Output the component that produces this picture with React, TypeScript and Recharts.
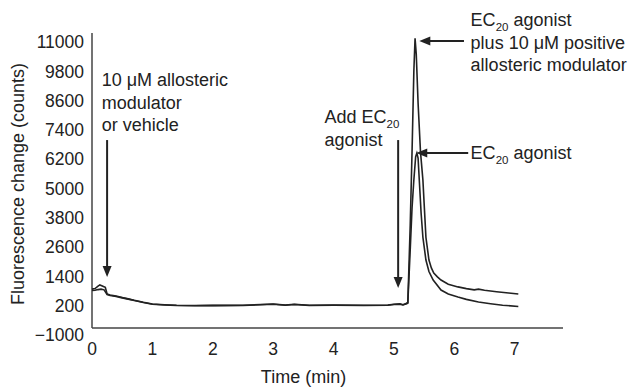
import React from 'react';
import { LineChart, Line, XAxis, YAxis, ReferenceLine, ReferenceDot } from 'recharts';

// Time (min)
const pamTimes = [0, 0.05, 0.1, 0.13, 0.18, 0.22, 0.25, 0.3, 0.4, 0.5, 0.6, 0.7, 0.85, 1.0, 1.2, 1.4, 1.7, 2.0, 2.5, 2.9, 3.0, 3.2, 3.35, 3.6, 4.0, 4.5, 4.9, 5.0, 5.1, 5.15, 5.2, 5.23, 5.27, 5.3, 5.33, 5.35, 5.37, 5.4, 5.44, 5.48, 5.5, 5.53, 5.58, 5.62, 5.66, 5.72, 5.78, 5.9, 6.06, 6.2, 6.33, 6.4, 6.5, 6.7, 6.9, 7.06];
// EC20 agonist plus 10 uM positive allosteric modulator
const pamValues = [880, 900, 1000, 1050, 1000, 950, 680, 640, 600, 540, 480, 420, 340, 270, 240, 220, 210, 215, 220, 260, 270, 230, 260, 220, 230, 220, 230, 260, 280, 240, 290, 330, 3500, 6500, 9800, 11150, 10500, 8500, 6500, 5350, 4400, 3000, 2070, 1750, 1540, 1380, 1250, 1080, 970, 900, 850, 880, 830, 770, 720, 680];

const agoTimes = [0, 0.05, 0.1, 0.15, 0.2, 0.25, 0.3, 0.4, 0.5, 0.6, 0.7, 0.85, 1.0, 1.2, 1.4, 1.7, 2.0, 2.5, 2.9, 3.0, 3.2, 3.35, 3.6, 4.0, 4.5, 4.9, 5.0, 5.1, 5.15, 5.2, 5.23, 5.27, 5.3, 5.33, 5.36, 5.38, 5.4, 5.42, 5.45, 5.48, 5.53, 5.58, 5.65, 5.78, 5.9, 6.06, 6.2, 6.4, 6.6, 6.8, 7.06];
// EC20 agonist alone
const agoValues = [820, 830, 860, 880, 850, 660, 620, 580, 520, 470, 410, 330, 260, 230, 210, 200, 205, 210, 250, 260, 220, 250, 210, 220, 210, 220, 250, 260, 230, 270, 300, 2500, 4200, 5350, 6300, 6450, 6250, 5350, 4000, 3000, 2070, 1600, 1250, 840, 680, 556, 460, 351, 280, 220, 170];

const xTicks = [0, 1, 2, 3, 4, 5, 6, 7];
const yTicks = [-1000, 200, 1400, 2600, 3800, 5000, 6200, 7400, 8600, 9800, 11000];

const pamData = pamTimes.map((t, i) => ({ t, v: pamValues[i] }));
const agoData = agoTimes.map((t, i) => ({ t, v: agoValues[i] }));

const INK = '#222';
const TICK_FONT = 17.5;
const FONT = 18;

const renderLine = (s: string) => {
  const idx = s.indexOf('EC20');
  if (idx < 0) return <tspan>{s}</tspan>;
  return (
    <>
      <tspan>{s.slice(0, idx) + 'EC'}</tspan>
      <tspan fontSize={11.5} dy={5}>20</tspan>
      <tspan dy={-5}>{s.slice(idx + 4)}</tspan>
    </>
  );
};

const noteShape = (lines: string[]) => (p: any) => (
  <g>
    {lines.map((l, i) => (
      <text key={i} x={p.cx} y={p.cy + i * 22.5} dy="0.35em" fontSize={FONT} fill={INK}>
        {renderLine(l)}
      </text>
    ))}
  </g>
);

const headShape = (dir: 'down' | 'left') => (p: any) => {
  const { cx, cy } = p;
  const pts = dir === 'down'
    ? `${cx},${cy} ${cx - 4.5},${cy - 11} ${cx + 4.5},${cy - 11}`
    : `${cx},${cy} ${cx + 11},${cy - 4.5} ${cx + 11},${cy + 4.5}`;
  return <polygon points={pts} fill={INK} />;
};

export default function App() {
  return (
    <div style={{ position: 'absolute', left: 0, top: 0 }}>
      <LineChart
        width={632}
        height={387}
        margin={{ top: 33, right: 69, bottom: 0, left: 0 }}
        style={{ fontFamily: '"Liberation Sans", Arial, sans-serif' }}
      >
        <XAxis
          dataKey="t"
          type="number"
          domain={[0, 7.8]}
          ticks={xTicks}
          height={52}
          axisLine={false}
          tickLine={false}
          tick={{ fill: INK, fontSize: TICK_FONT }}
          allowDuplicatedCategory={false}
          label={{ value: 'Time (min)', position: 'insideBottom', offset: 4, dx: -24, fill: INK, fontSize: FONT }}
        />
        <YAxis
          type="number"
          domain={[-1000, 11370]}
          ticks={yTicks}
          width={92}
          axisLine={false}
          tickLine={false}
          interval={0}
          tick={{ fill: INK, fontSize: TICK_FONT }}
          tickFormatter={(v: number) => (v < 0 ? '\u2212' + Math.abs(v) : String(v))}
          label={{ value: 'Fluorescence change (counts)', angle: -90, position: 'insideLeft', offset: 18, fill: INK, fontSize: FONT, style: { textAnchor: 'middle' } }}
        />
        {/* axis lines */}
        <ReferenceLine y={-713} stroke="#444" strokeWidth={1.5} ifOverflow="visible" />
        <ReferenceLine segment={[{ x: 0, y: -713 }, { x: 0, y: 11370 }]} stroke="#444" strokeWidth={1.5} ifOverflow="visible" />

        <Line data={agoData} dataKey="v" type="linear" stroke={INK} strokeWidth={1.6} dot={false} isAnimationActive={false} />
        <Line data={pamData} dataKey="v" type="linear" stroke={INK} strokeWidth={1.6} dot={false} isAnimationActive={false} />

        {/* annotation: modulator or vehicle */}
        <ReferenceDot x={0.16} y={9440} r={0} ifOverflow="visible" shape={noteShape(['10 \u03bcM allosteric', 'modulator', 'or vehicle'])} />
        <ReferenceLine segment={[{ x: 0.25, y: 6985 }, { x: 0.25, y: 1600 }]} stroke={INK} strokeWidth={2} ifOverflow="visible" />
        <ReferenceDot x={0.25} y={1375} r={0} ifOverflow="visible" shape={headShape('down')} />

        {/* annotation: add EC20 agonist */}
        <ReferenceDot x={3.85} y={7927} r={0} ifOverflow="visible" shape={noteShape(['Add EC20', 'agonist'])} />
        <ReferenceLine segment={[{ x: 5.07, y: 6985 }, { x: 5.07, y: 1150 }]} stroke={INK} strokeWidth={2} ifOverflow="visible" />
        <ReferenceDot x={5.07} y={925} r={0} ifOverflow="visible" shape={headShape('down')} />

        {/* annotation: PAM peak */}
        <ReferenceDot x={6.27} y={11899} r={0} ifOverflow="visible" shape={noteShape(['EC20 agonist', 'plus 10 \u03bcM positive', 'allosteric modulator'])} />
        <ReferenceLine segment={[{ x: 6.16, y: 11039 }, { x: 5.5, y: 11039 }]} stroke={INK} strokeWidth={2} ifOverflow="visible" />
        <ReferenceDot x={5.42} y={11039} r={0} ifOverflow="visible" shape={headShape('left')} />

        {/* annotation: agonist peak */}
        <ReferenceDot x={6.27} y={6453} r={0} ifOverflow="visible" shape={noteShape(['EC20 agonist'])} />
        <ReferenceLine segment={[{ x: 6.23, y: 6453 }, { x: 5.45, y: 6453 }]} stroke={INK} strokeWidth={2} ifOverflow="visible" />
        <ReferenceDot x={5.37} y={6453} r={0} ifOverflow="visible" shape={headShape('left')} />
      </LineChart>
    </div>
  );
}
